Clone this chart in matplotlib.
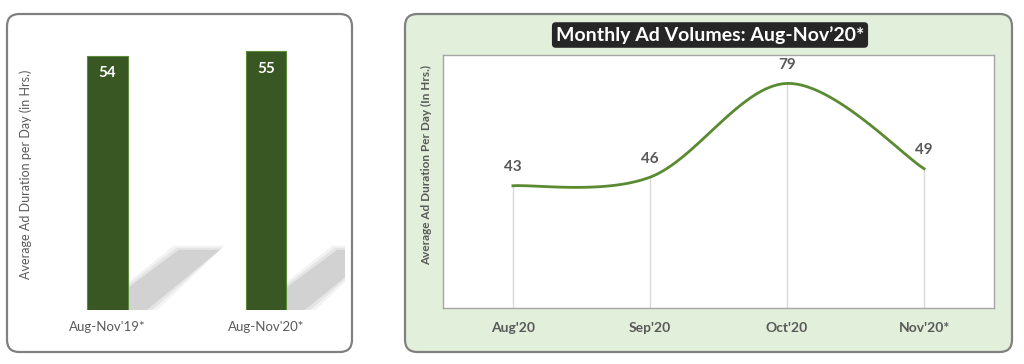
import matplotlib.pyplot as plt
import numpy as np
from matplotlib.patches import FancyBboxPatch, Polygon

plt.rcParams['font.family'] = ['Lato', 'DejaVu Sans']

# data
periods = ["Aug-Nov'19*", "Aug-Nov'20*"]
period_hours = [54, 55]
months = ["Aug'20", "Sep'20", "Oct'20", "Nov'20*"]
month_hours = [43, 46, 79, 49]

W, H = 1024, 364
fig = plt.figure(figsize=(W / 100, H / 100), dpi=100)

def px_box(x0, y0, x1, y1):
    # pixel box (top-left origin) -> figure fraction
    return [x0 / W, (H - y1) / H, (x1 - x0) / W, (y1 - y0) / H]

# panel backgrounds
for (x0, y0, x1, y1), fc in [((7, 14, 352, 352), "white"), ((405, 14, 1012, 352), "#e2efda")]:
    b = px_box(x0, y0, x1, y1)
    fig.patches.append(FancyBboxPatch((b[0], b[1]), b[2], b[3],
                                      boxstyle="round,pad=0,rounding_size=0.012",
                                      transform=fig.transFigure, fc=fc, ec="#808080",
                                      lw=1.6, mutation_aspect=W / H, zorder=-5))

# left: bar chart
ax1 = fig.add_axes(px_box(40, 42, 345, 310))
ax1.set_facecolor("none")
x1 = np.arange(len(periods))
bw = 0.255
for xi, v in zip(x1, period_hours):
    # soft shadow: a few stacked, slightly grown copies
    for k, a in [(0.03, 0.18), (0.015, 0.25), (0.0, 0.45)]:
        shadow = Polygon([(xi + bw / 2, -k * 40), (xi + bw / 2, 4.7 + k * 40),
                          (xi + 0.45 - k, 12.8 + k * 30), (xi + 0.71 + k, 12.8 + k * 30),
                          (xi + bw / 2 + 0.12 + k, -k * 40)],
                         closed=True, fc="#bdbdbd", ec="none", alpha=a, zorder=1)
        ax1.add_patch(shadow)
ax1.bar(x1, period_hours, width=bw, color="#385723", edgecolor="#5a8a3a", lw=0.8, zorder=2)
for xi, v in zip(x1, period_hours):
    ax1.text(xi, v - 2.2, str(v), ha="center", va="top", color="white",
             fontsize=11, fontweight="bold", zorder=3)
ax1.set_xlim(-0.427, 1.5)
ax1.set_ylim(0, 57)
ax1.set_xticks(x1, periods, fontsize=9.5, color="#595959")
ax1.tick_params(axis="x", length=0, pad=8)
ax1.set_yticks([])
for s in ax1.spines.values():
    s.set_visible(False)
fig.text(26 / W, 1 - 174 / H, "Average Ad Duration per Day (in Hrs.)", rotation=90,
         ha="center", va="center", fontsize=9, color="#595959")

# right: smoothed line chart
ax2 = fig.add_axes(px_box(443, 55, 994, 308))
ax2.set_facecolor("white")
xm = np.arange(len(months))
ym = np.array(month_hours, dtype=float)

# Catmull-Rom style smoothing (like Excel's smoothed line)
pts = np.column_stack([xm, ym])
ext = np.vstack([pts[0], pts, pts[-1]])
curve = []
for i in range(1, len(ext) - 2):
    p0, p1, p2, p3 = ext[i - 1], ext[i], ext[i + 1], ext[i + 2]
    c1 = p1 + (p2 - p0) / 6
    c2 = p2 - (p3 - p1) / 6
    t = np.linspace(0, 1, 40)[:, None]
    seg = (1 - t) ** 3 * p1 + 3 * (1 - t) ** 2 * t * c1 + 3 * (1 - t) * t ** 2 * c2 + t ** 3 * p2
    curve.append(seg)
curve = np.vstack(curve)

ax2.vlines(xm, 0, ym, color="#d9d9d9", lw=1, zorder=1)
ax2.plot(curve[:, 0], curve[:, 1], color="#5a8a32", lw=2, zorder=2)
for xi, v in zip(xm, month_hours):
    ax2.text(xi, v + 4, str(v), ha="center", va="bottom", color="#595959",
             fontsize=11, fontweight="bold")
ax2.set_xlim(-0.51, 3.51)
ax2.set_ylim(0, 89)
ax2.set_xticks(xm, months, fontsize=10, fontweight="bold", color="#595959")
ax2.tick_params(axis="x", length=0, pad=10)
ax2.set_yticks([])
for s in ax2.spines.values():
    s.set_color("#a6a6a6")
    s.set_linewidth(1)
fig.text(427 / W, 1 - 165 / H, "Average Ad Duration Per Day (In Hrs.)", rotation=90,
         ha="center", va="center", fontsize=8.5, fontweight="bold", color="#595959")

fig.text(710 / W, 1 - 35 / H, "Monthly Ad Volumes: Aug-Nov\u201920*", ha="center", va="center",
         fontsize=14, fontweight="bold", color="white",
         bbox=dict(boxstyle="round,pad=0.2,rounding_size=0.2", fc="#262626", ec="none"))

fig.savefig("out.png", dpi=100)
